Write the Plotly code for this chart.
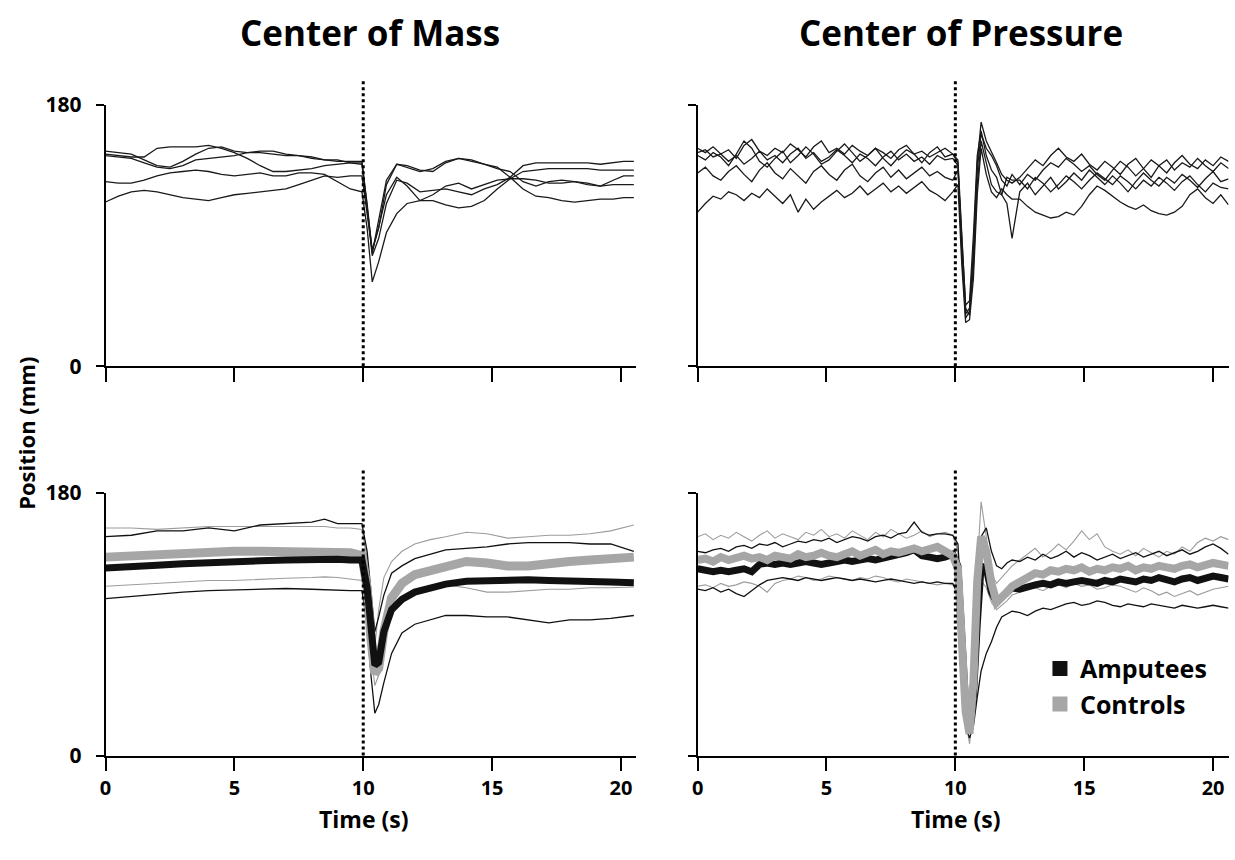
import plotly.graph_objects as go

# ---------------- data ----------------
PERTURB_T = 10.0
DOT_TOP = 197  # top of dotted perturbation marker (mm units)

# time grids (s)
T_COM_TOP = [0, 0.5, 1, 1.5, 2, 2.5, 3, 3.5, 4, 4.5, 5, 5.5, 6, 6.5, 7, 7.5, 8, 8.5, 9, 9.5, 9.95,
             10.15, 10.35, 10.6, 10.9, 11.3, 11.7, 12.2, 12.7, 13.2, 13.7, 14.2, 14.7, 15.2, 15.7,
             16.2, 16.7, 17.2, 17.7, 18.2, 18.7, 19.2, 19.7, 20.1, 20.5]
T_COP = ([round(0.3 * i, 2) for i in range(34)]
         + [10.1, 10.25, 10.4, 10.55, 10.7, 10.85, 11.0, 11.2, 11.4, 11.6, 11.8, 12.0, 12.2]
         + [round(12.5 + 0.3 * i, 2) for i in range(28)])
T_COM_BOT = [0, 1, 2, 3, 4, 5, 6, 7, 8, 8.5, 9, 9.5, 9.95,
             10.15, 10.3, 10.45, 10.6, 10.8, 11.1, 11.5, 12, 12.6, 13.2, 14, 14.8, 15.6, 16.4,
             17.2, 18, 18.8, 19.6, 20.5]

# Center of mass, individual amputee trials (mm)
COM_A = [148, 147, 146, 142, 138, 137, 141, 146, 150, 151, 148, 147, 148, 148, 146, 145, 143, 142, 141, 141, 141,
         110, 80, 95, 125, 139, 138, 135, 134, 140, 143, 142, 139, 136, 134, 127, 124, 127, 128, 127, 126, 124, 125, 125, 125]
COM_B = [146, 145, 144, 144, 150, 151, 151, 151, 152, 150, 147, 143, 138, 134, 134, 135, 136, 138, 139, 140, 140,
         112, 78, 100, 128, 139, 137, 134, 136, 141, 143, 141, 139, 137, 130, 122, 117, 116, 114, 113, 114, 115, 115, 116, 116]
COM_C = [145, 144, 143, 140, 137, 136, 138, 142, 143, 144, 145, 147, 147, 146, 145, 145, 144, 142, 142, 140, 139,
         108, 76, 88, 112, 128, 126, 120, 121, 122, 120, 118, 122, 125, 130, 138, 140, 140, 140, 140, 140, 139, 140, 141, 141]
COM_D = [127, 126, 126, 128, 131, 133, 134, 135, 134, 132, 131, 132, 133, 131, 131, 133, 133, 132, 127, 122, 120,
         95, 58, 72, 92, 105, 112, 114, 114, 111, 109, 110, 114, 122, 129, 134, 135, 136, 136, 136, 136, 135, 135, 135, 135]
COM_E = [113, 117, 120, 121, 120, 118, 116, 115, 114, 116, 118, 119, 120, 121, 122, 125, 128, 131, 130, 131, 131,
         105, 79, 96, 118, 130, 124, 114, 118, 124, 126, 122, 125, 128, 129, 129, 128, 126, 126, 127, 125, 124, 128, 131, 131]

# Center of pressure, individual amputee trials (mm)
COP_1 = [150, 147, 151, 146, 149, 143, 152, 156, 148, 145, 150, 147, 153, 149, 144, 151, 155, 147, 150, 146,
         152, 148, 145, 150, 147, 143, 149, 152, 146, 148, 144, 147, 150, 146,
         140, 80, 36, 40, 80, 140, 168, 155, 148, 140, 132, 128, 126,
         130, 136, 142, 138, 145, 150, 144, 141, 146, 139, 135, 141, 137, 132, 139, 143, 136, 130, 138, 142,
         135, 140, 137, 143, 138, 134, 140, 136]
COP_2 = [147, 149, 144, 146, 141, 145, 139, 143, 148, 142, 145, 140, 146, 150, 143, 147, 141, 144, 149, 145,
         140, 146, 143, 138, 144, 148, 142, 146, 141, 144, 139, 145, 142, 143,
         138, 78, 33, 38, 75, 135, 160, 150, 145, 138, 128, 124, 132,
         125, 132, 128, 135, 140, 137, 143, 139, 134, 138, 132, 128, 135, 141, 137, 131, 136, 142, 138, 133,
         140, 145, 139, 136, 142, 138, 144, 141]
COP_3 = [145, 142, 147, 144, 138, 146, 155, 150, 141, 137, 143, 148, 140, 145, 151, 146, 139, 142, 148, 153,
         147, 141, 145, 150, 143, 138, 144, 149, 146, 140, 147, 151, 144, 146,
         142, 90, 40, 35, 68, 125, 155, 140, 125, 120, 118, 130, 128,
         128, 122, 130, 126, 120, 125, 131, 127, 122, 128, 133, 129, 125, 131, 127, 122, 128, 124, 130, 126,
         121, 127, 131, 125, 120, 126, 123, 122]
COP_4 = [133, 137, 131, 128, 134, 138, 132, 127, 135, 140, 133, 129, 136, 131, 126, 134, 138, 132, 128, 135,
         139, 131, 127, 133, 137, 130, 135, 129, 133, 137, 131, 134, 130, 128,
         135, 85, 42, 45, 90, 145, 162, 145, 135, 130, 118, 112, 88,
         120, 126, 118, 124, 130, 122, 127, 133, 128, 135, 130, 125, 131, 126, 120, 127, 133, 128, 124, 130,
         126, 132, 128, 123, 129, 134, 127, 129]
COP_5 = [106, 112, 117, 115, 120, 118, 114, 119, 116, 122, 117, 112, 118, 106, 115, 108, 113, 117, 121, 116,
         119, 124, 118, 122, 126, 120, 124, 119, 123, 127, 121, 118, 114, 120,
         125, 70, 30, 32, 60, 118, 150, 132, 120, 116, 122, 118, 115,
         115, 110, 106, 104, 102, 103, 106, 104, 110, 118, 124, 121, 117, 113, 110, 108, 111, 107, 105, 104,
         106, 110, 118, 122, 116, 112, 118, 111]

# Group means and +/- SD, center of mass (mm)
COM_AMP_MEAN = [128.5, 129, 130.5, 131.5, 132.5, 133, 133.5, 134, 134.5, 134.5, 134.5, 134, 134,
                115, 85, 62, 64, 85, 100, 107, 112, 115, 117.5, 119.5, 120, 120.5, 120.5, 120, 120, 119.5, 119, 118.5]
COM_AMP_UP = [150, 151, 154, 154, 156, 154, 158, 159, 160, 162, 159, 159, 159,
              140, 110, 85, 95, 110, 125, 130, 135, 138, 141, 142, 143, 145, 146, 146, 146, 145, 145, 140]
COM_AMP_LO = [107.5, 109, 111, 112, 113, 113.5, 114, 114.5, 114, 113.5, 113.5, 113, 113,
              90, 55, 29, 35, 50, 70, 84, 90, 93, 96, 96, 95, 95, 93, 91, 93, 93, 94, 96]
COM_CTL_MEAN = [136, 137, 138, 139, 139.5, 140, 140, 140, 140, 140, 140, 139, 137,
                115, 80, 56, 60, 85, 108, 118, 124, 127, 130, 133, 132, 130, 130, 132, 133, 134, 135, 136]
COM_CTL_UP = [156, 156, 155, 156, 157, 157, 157, 157, 157, 157, 156, 156, 155,
              135, 100, 75, 100, 122, 133, 140, 145, 148, 150, 153, 152, 149, 150, 151, 151, 152, 154, 158]
COM_CTL_LO = [116, 117, 118, 119, 120, 120, 121, 121.5, 122, 122.5, 122, 121, 120,
              100, 70, 48, 55, 80, 98, 106, 112, 115, 117, 115, 112, 112, 113, 114, 114, 115, 115, 115.5]

# Group means and +/- SD, center of pressure (mm)
COP_AMP_MEAN = [128, 127, 126, 127, 126, 127, 128, 126, 131, 132, 131, 132, 131, 132, 133, 132, 131, 132, 133, 134,
                133, 134, 135, 134, 135, 136, 137, 139, 141, 137, 136, 135, 136, 138,
                130, 85, 35, 20, 40, 90, 130, 128, 112, 105, 108, 112, 115,
                114, 116, 117, 118, 117, 119, 118, 119, 120, 119, 118, 120, 119, 121, 120, 119, 121, 120, 122, 120,
                119, 121, 122, 120, 121, 123, 122, 121]
COP_AMP_UP = [140, 139, 141, 142, 140, 143, 144, 142, 145, 144, 146, 143, 145, 147, 146, 148, 147, 149, 146, 148,
              150, 149, 147, 150, 151, 149, 152, 153, 160, 153, 151, 152, 152, 151,
              145, 100, 50, 25, 45, 110, 150, 156, 140, 130, 128, 132, 134,
              133, 136, 134, 138, 135, 137, 140, 136, 139, 137, 134, 136, 138, 135, 137, 139, 136, 138, 140, 137,
              139, 141, 138, 140, 143, 145, 142, 138]
COP_AMP_LO = [114, 113, 115, 112, 114, 111, 109, 113, 117, 120, 121, 122, 121, 120, 122, 121, 120, 121, 122, 121,
              120, 121, 120, 119, 120, 121, 120, 119, 118, 119, 118, 119, 118, 118,
              110, 60, 20, 12, 20, 40, 58, 70, 78, 88, 95, 97, 99,
              98, 96, 99, 101, 100, 102, 104, 105, 103, 104, 106, 105, 103, 102, 104, 103, 102, 104, 103, 102,
              101, 103, 102, 101, 102, 103, 102, 101]
COP_CTL_MEAN = [134, 135, 133, 136, 134, 135, 137, 135, 136, 134, 137, 136, 135, 138, 136, 137, 139, 137, 136, 138,
                140, 137, 139, 141, 138, 140, 139, 141, 142, 140, 141, 143, 140, 137,
                128, 80, 30, 15, 50, 120, 150, 140, 118, 105, 108, 112, 116,
                119, 122, 125, 124, 127, 126, 128, 127, 129, 126, 128, 127, 129, 128, 130, 127, 129, 128, 130, 129,
                128, 130, 131, 129, 130, 132, 131, 130]
COP_CTL_UP = [150, 152, 148, 151, 149, 153, 150, 147, 151, 154, 149, 152, 150, 148, 153, 151, 155, 150, 152, 149,
              154, 151, 148, 153, 150, 155, 152, 149, 151, 154, 150, 152, 153, 151,
              140, 90, 40, 20, 60, 130, 174, 150, 125, 118, 122, 126, 130,
              134, 138, 142, 136, 140, 145, 141, 147, 154, 148, 152, 143, 140, 138, 141, 137, 142, 139, 136, 140,
              138, 143, 140, 146, 149, 147, 150, 148]
COP_CTL_LO = [116, 117, 115, 118, 116, 117, 119, 118, 116, 112, 118, 120, 121, 123, 122, 120, 121, 123, 122, 121,
              120, 122, 121, 123, 122, 120, 119, 121, 120, 119, 118, 117, 118, 117,
              115, 70, 25, 8, 30, 80, 120, 115, 105, 100, 103, 106, 110,
              112, 114, 115, 113, 116, 117, 115, 118, 116, 117, 114, 115, 117, 116, 114, 112, 115, 113, 110, 112,
              109, 111, 113, 110, 112, 114, 115, 116]

TITLES = ["Center of Mass", "Center of Pressure"]
X_TICKS = [0, 5, 10, 15, 20]
Y_TICKS = [0, 180]
X_RANGE = [0, 20.6]
Y_RANGE = [0, 180]
LEGEND_NAMES = ["Amputees", "Controls"]

# ---------------- style ----------------
FONT = "Open Sans"
BLACK = "#111111"
GRAY = "#a6a6a6"
THIN_GRAY = "#9c9c9c"
W, H = 1235, 860

fig = go.Figure()


def line(x, y, ax, color, width):
    fig.add_trace(go.Scatter(x=x, y=y, mode="lines", xaxis="x" + ax, yaxis="y" + ax,
                             line=dict(color=color, width=width), showlegend=False,
                             hoverinfo="skip"))


# top-left: COM trials
for s in [COM_A, COM_B, COM_C, COM_D, COM_E]:
    line(T_COM_TOP, s, "", "#1a1a1a", 1.3)
# top-right: COP trials
for s in [COP_1, COP_2, COP_3, COP_4, COP_5]:
    line(T_COP, s, "2", "#1a1a1a", 1.3)
# bottom-left: COM groups
for s in [COM_CTL_UP, COM_CTL_LO]:
    line(T_COM_BOT, s, "3", THIN_GRAY, 1.1)
for s in [COM_AMP_UP, COM_AMP_LO]:
    line(T_COM_BOT, s, "3", BLACK, 1.3)
line(T_COM_BOT, COM_CTL_MEAN, "3", GRAY, 9)
line(T_COM_BOT, COM_AMP_MEAN, "3", BLACK, 7)
# bottom-right: COP groups
for s in [COP_CTL_UP, COP_CTL_LO]:
    line(T_COP, s, "4", THIN_GRAY, 1.1)
for s in [COP_AMP_UP, COP_AMP_LO]:
    line(T_COP, s, "4", BLACK, 1.3)
line(T_COP, COP_AMP_MEAN, "4", BLACK, 7)
line(T_COP, COP_CTL_MEAN, "4", GRAY, 8)

# legend entries
for name, col in zip(LEGEND_NAMES, [BLACK, GRAY]):
    fig.add_trace(go.Scatter(x=[None], y=[None], mode="markers", xaxis="x4", yaxis="y4", name=name,
                             marker=dict(symbol="square", size=15, color=col)))

# geometry (pixel -> paper)
XL = [100 / W, 633.5 / W]
XR = [695 / W, 1228.5 / W]
YT = [1 - 363 / H, 1 - 92.7 / H]
YB = [1 - 765.5 / H, 1 - 494 / H]

tickfont = dict(family=FONT, size=20, color="black", weight="bold")
ytickfont = dict(family=FONT, size=21, color="black", weight="bold")


def xax(dom, anchor, labels):
    return dict(domain=dom, anchor=anchor, range=X_RANGE, tickvals=X_TICKS,
                showticklabels=labels, ticks="outside", ticklen=14, tickwidth=1.5,
                tickcolor="black", showline=True, linecolor="black", linewidth=1.5,
                showgrid=False, zeroline=False, tickfont=tickfont)


def yax(dom, anchor, labels):
    return dict(domain=dom, anchor=anchor, range=Y_RANGE, tickvals=Y_TICKS,
                showticklabels=labels, ticks="outside", ticklen=8, tickwidth=1.5,
                tickcolor="black", showline=True, linecolor="black", linewidth=1.5,
                showgrid=False, zeroline=False, tickfont=ytickfont, ticklabelstandoff=10)


fig.update_layout(
    width=W, height=H, margin=dict(l=0, r=0, t=0, b=0),
    paper_bgcolor="white", plot_bgcolor="white",
    xaxis=xax(XL, "y", False), yaxis=yax(YT, "x", True),
    xaxis2=xax(XR, "y2", False), yaxis2=yax(YT, "x2", False),
    xaxis3=xax(XL, "y3", True), yaxis3=yax(YB, "x3", True),
    xaxis4=xax(XR, "y4", True), yaxis4=yax(YB, "x4", False),
    showlegend=True,
    legend=dict(x=1039 / W, y=1 - 652 / H, xanchor="left", yanchor="top",
                bgcolor="rgba(0,0,0,0)", itemwidth=30, tracegroupgap=0,
                font=dict(family=FONT, size=25, color="black", weight="bold")),
)

# dotted perturbation markers
for ax, ydom in [("x", YT), ("x2", YT), ("x3", YB), ("x4", YB)]:
    top = ydom[0] + (ydom[1] - ydom[0]) * DOT_TOP / Y_RANGE[1]
    fig.add_shape(type="line", xref=ax, yref="paper", x0=PERTURB_T, x1=PERTURB_T,
                  y0=ydom[0], y1=top, line=dict(color="black", width=3, dash="dot"))

ann_font = dict(family=FONT, color="black", weight="bold")


def label(text, px, py, size, angle=0):
    fig.add_annotation(text=text, x=px / W, y=1 - py / H, xref="paper", yref="paper",
                       xanchor="center", yanchor="middle", showarrow=False,
                       textangle=angle, font=dict(size=size, **ann_font))


label(TITLES[0], 366, 18, 35)
label(TITLES[1], 960, 18, 35)
for cx in [360, 955]:
    label("Time (s)", cx, 831, 23)
label("Position (mm)", 20, 432, 22, -90)

fig.write_html("out.html", config={"displayModeBar": False},
               post_script="document.body.style.margin='0';document.body.style.overflow='hidden';")
